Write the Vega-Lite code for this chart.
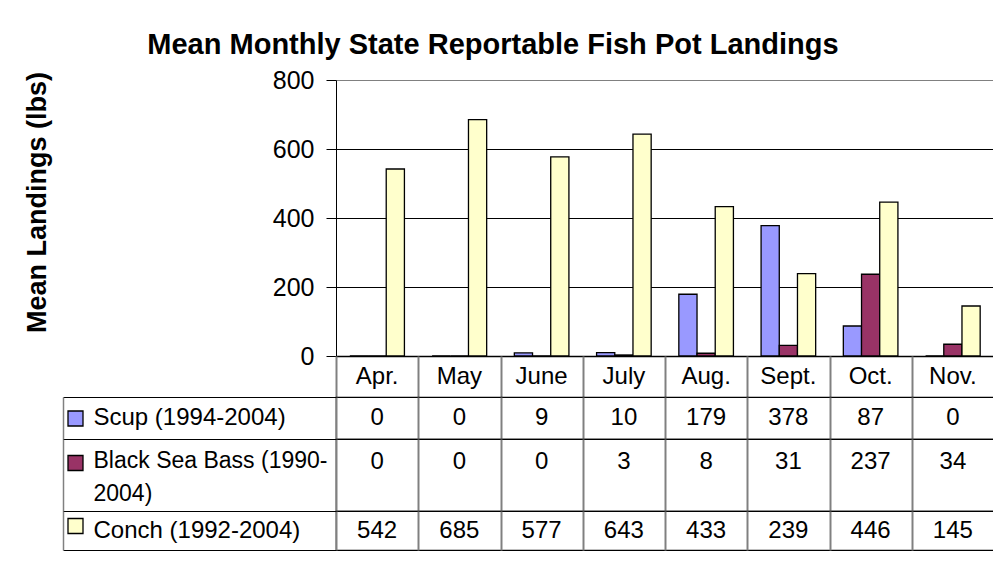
{
  "$schema": "https://vega.github.io/schema/vega-lite/v6.json",
  "padding": {"top": 31, "left": 23, "right": 0, "bottom": 0},
  "background": "white",
  "config": {
    "font": "Liberation Sans",
    "view": {"stroke": null},
    "axis": {"labelColor": "black", "titleColor": "black", "labelFont": "Liberation Sans", "titleFont": "Liberation Sans"}
  },
  "title": {
    "text": "Mean Monthly State Reportable Fish Pot Landings",
    "fontSize": 29,
    "fontWeight": "bold",
    "color": "black",
    "anchor": "middle",
    "offset": 8,
    "dx": -16
  },
  "data": {
    "values": [
      {"month": "Apr.", "series": "Scup (1994-2004)", "value": 0},
      {"month": "May", "series": "Scup (1994-2004)", "value": 0},
      {"month": "June", "series": "Scup (1994-2004)", "value": 9},
      {"month": "July", "series": "Scup (1994-2004)", "value": 10},
      {"month": "Aug.", "series": "Scup (1994-2004)", "value": 179},
      {"month": "Sept.", "series": "Scup (1994-2004)", "value": 378},
      {"month": "Oct.", "series": "Scup (1994-2004)", "value": 87},
      {"month": "Nov.", "series": "Scup (1994-2004)", "value": 0},
      {"month": "Apr.", "series": "Black Sea Bass (1990-2004)", "value": 0},
      {"month": "May", "series": "Black Sea Bass (1990-2004)", "value": 0},
      {"month": "June", "series": "Black Sea Bass (1990-2004)", "value": 0},
      {"month": "July", "series": "Black Sea Bass (1990-2004)", "value": 3},
      {"month": "Aug.", "series": "Black Sea Bass (1990-2004)", "value": 8},
      {"month": "Sept.", "series": "Black Sea Bass (1990-2004)", "value": 31},
      {"month": "Oct.", "series": "Black Sea Bass (1990-2004)", "value": 237},
      {"month": "Nov.", "series": "Black Sea Bass (1990-2004)", "value": 34},
      {"month": "Apr.", "series": "Conch (1992-2004)", "value": 542},
      {"month": "May", "series": "Conch (1992-2004)", "value": 685},
      {"month": "June", "series": "Conch (1992-2004)", "value": 577},
      {"month": "July", "series": "Conch (1992-2004)", "value": 643},
      {"month": "Aug.", "series": "Conch (1992-2004)", "value": 433},
      {"month": "Sept.", "series": "Conch (1992-2004)", "value": 239},
      {"month": "Oct.", "series": "Conch (1992-2004)", "value": 446},
      {"month": "Nov.", "series": "Conch (1992-2004)", "value": 145}
    ]
  },
  "spacing": 0,
  "bounds": "flush",
  "resolve": {"scale": {"fill": "independent"}, "legend": {"fill": "independent"}},
  "vconcat": [
    {
      "width": 658,
      "height": 276,
      "mark": {"type": "bar", "stroke": "black", "strokeWidth": 1.3},
      "encoding": {
        "x": {
          "field": "month", "type": "nominal",
          "sort": ["Apr.", "May", "June", "July", "Aug.", "Sept.", "Oct.", "Nov."],
          "scale": {"paddingInner": 0, "paddingOuter": 0},
          "axis": {"title": null, "labels": false, "ticks": false, "domainColor": "black", "domainWidth": 1.3}
        },
        "xOffset": {
          "field": "series", "type": "nominal",
          "sort": ["Scup (1994-2004)", "Black Sea Bass (1990-2004)", "Conch (1992-2004)"],
          "scale": {"paddingInner": 0, "paddingOuter": 0.76}
        },
        "y": {
          "field": "value", "type": "quantitative",
          "scale": {"domain": [0, 800]},
          "axis": {
            "title": "Mean Landings (lbs)", "titleFontSize": 27, "titleFontWeight": "bold",
            "titlePadding": 221, "titleY": 122,
            "values": [0, 200, 400, 600, 800], "labelFontSize": 25,
            "tickSize": 10, "tickColor": "black", "labelPadding": 12,
            "domainColor": "black", "grid": true,
            "gridColor": {"condition": {"test": "datum.value === 800", "value": "#808080"}, "value": "black"},
            "gridWidth": 1.2
          }
        },
        "color": {
          "field": "series", "type": "nominal",
          "scale": {"domain": ["Scup (1994-2004)", "Black Sea Bass (1990-2004)", "Conch (1992-2004)"], "range": ["#9999FF", "#993366", "#FFFFCC"]},
          "legend": null
        }
      }
    },
    {
      "width": 658,
      "height": 41,
      "transform": [{"filter": "datum.series === 'Conch (1992-2004)'"}],
      "mark": {"type": "text", "fontSize": 24, "color": "black"},
      "encoding": {
        "x": {
          "field": "month", "type": "nominal",
          "sort": ["Apr.", "May", "June", "July", "Aug.", "Sept.", "Oct.", "Nov."],
          "scale": {"type": "band", "paddingInner": 0, "paddingOuter": 0},
          "axis": {"title": null, "labels": false, "ticks": false, "domain": false, "grid": true, "tickBand": "extent", "gridColor": "#808080", "gridWidth": 2}
        },
        "text": {"field": "month", "type": "nominal"}
      }
    },
    {
      "width": 658,
      "height": 42,
      "view": {"stroke": "black", "strokeWidth": 1.2},
      "transform": [{"filter": "datum.series === 'Scup (1994-2004)'"}],
      "encoding": {
        "x": {
          "field": "month", "type": "nominal",
          "sort": ["Apr.", "May", "June", "July", "Aug.", "Sept.", "Oct.", "Nov."],
          "scale": {"type": "band", "paddingInner": 0, "paddingOuter": 0},
          "axis": {"title": null, "labels": false, "ticks": false, "domain": false, "grid": true, "tickBand": "extent", "gridColor": "#808080", "gridWidth": 2}
        }
      },
      "resolve": {"axis": {"y": "independent"}},
      "layer": [
        {
          "mark": {"type": "text", "fontSize": 24, "color": "black"},
          "encoding": {
            "y": {
              "field": "series", "type": "nominal",
              "scale": {"type": "band", "paddingInner": 0, "paddingOuter": 0},
              "axis": {"orient": "left", "title": null, "offset": 273, "tickBand": "extent", "tickSize": -273, "tickColor": "black", "tickWidth": 1.2, "domainColor": "#808080", "domainWidth": 1.5, "labels": false}
            },
            "text": {"field": "value", "type": "quantitative"}
          }
        },
        {
          "mark": {"type": "square", "opacity": 0},
          "encoding": {
            "y": {
              "field": "series", "type": "nominal",
              "scale": {"type": "band", "paddingInner": 0, "paddingOuter": 0},
              "axis": {"orient": "left", "title": null, "offset": 273, "ticks": false, "tickSize": 0, "domain": false, "labelAlign": "left", "labelPadding": -30, "labelFontSize": 24, "labelLimit": 400, "labelBaseline": "middle"}
            },
            "fill": {
              "field": "series", "type": "nominal",
              "scale": {"domain": ["Scup (1994-2004)"], "range": ["#9999FF"]},
              "legend": {"orient": "none", "legendX": -269, "legendY": 13, "title": null, "symbolType": "square", "symbolSize": 225, "symbolStrokeColor": "black", "symbolStrokeWidth": 1.3, "symbolOpacity": 1, "labelExpr": "''", "padding": 0}
            }
          }
        }
      ]
    },
    {
      "width": 658,
      "height": 72,
      "view": {"stroke": "black", "strokeWidth": 1.2},
      "transform": [{"filter": "datum.series === 'Black Sea Bass (1990-2004)'"}],
      "encoding": {
        "x": {
          "field": "month", "type": "nominal",
          "sort": ["Apr.", "May", "June", "July", "Aug.", "Sept.", "Oct.", "Nov."],
          "scale": {"type": "band", "paddingInner": 0, "paddingOuter": 0},
          "axis": {"title": null, "labels": false, "ticks": false, "domain": false, "grid": true, "tickBand": "extent", "gridColor": "#808080", "gridWidth": 2}
        }
      },
      "resolve": {"axis": {"y": "independent"}},
      "layer": [
        {
          "mark": {"type": "text", "fontSize": 24, "color": "black", "dy": -13},
          "encoding": {
            "y": {
              "field": "series", "type": "nominal",
              "scale": {"type": "band", "paddingInner": 0, "paddingOuter": 0},
              "axis": {"orient": "left", "title": null, "offset": 273, "tickBand": "extent", "tickSize": -273, "tickColor": "black", "tickWidth": 1.2, "domainColor": "#808080", "domainWidth": 1.5, "labels": false}
            },
            "text": {"field": "value", "type": "quantitative"}
          }
        },
        {
          "mark": {"type": "square", "opacity": 0},
          "encoding": {
            "y": {
              "field": "series", "type": "nominal",
              "scale": {"type": "band", "paddingInner": 0, "paddingOuter": 0},
              "axis": {"orient": "left", "title": null, "offset": 273, "ticks": false, "tickSize": 0, "domain": false, "labelAlign": "left", "labelPadding": -30, "labelFontSize": 23, "labelLimit": 400, "labelBaseline": "middle", "labelLineHeight": 33, "labelOffset": -14, "labelExpr": "['Black Sea Bass (1990-', '2004)']"}
            },
            "fill": {
              "field": "series", "type": "nominal",
              "scale": {"domain": ["Black Sea Bass (1990-2004)"], "range": ["#993366"]},
              "legend": {"orient": "none", "legendX": -269, "legendY": 15.5, "title": null, "symbolType": "square", "symbolSize": 225, "symbolStrokeColor": "black", "symbolStrokeWidth": 1.3, "symbolOpacity": 1, "labelExpr": "''", "padding": 0}
            }
          }
        }
      ]
    },
    {
      "width": 658,
      "height": 39,
      "view": {"stroke": "black", "strokeWidth": 1.2},
      "transform": [{"filter": "datum.series === 'Conch (1992-2004)'"}],
      "encoding": {
        "x": {
          "field": "month", "type": "nominal",
          "sort": ["Apr.", "May", "June", "July", "Aug.", "Sept.", "Oct.", "Nov."],
          "scale": {"type": "band", "paddingInner": 0, "paddingOuter": 0},
          "axis": {"title": null, "labels": false, "ticks": false, "domain": false, "grid": true, "tickBand": "extent", "gridColor": "#808080", "gridWidth": 2}
        }
      },
      "resolve": {"axis": {"y": "independent"}},
      "layer": [
        {
          "mark": {"type": "text", "fontSize": 24, "color": "black"},
          "encoding": {
            "y": {
              "field": "series", "type": "nominal",
              "scale": {"type": "band", "paddingInner": 0, "paddingOuter": 0},
              "axis": {"orient": "left", "title": null, "offset": 273, "tickBand": "extent", "tickSize": -273, "tickColor": "black", "tickWidth": 1.2, "domainColor": "#808080", "domainWidth": 1.5, "labels": false}
            },
            "text": {"field": "value", "type": "quantitative"}
          }
        },
        {
          "mark": {"type": "square", "opacity": 0},
          "encoding": {
            "y": {
              "field": "series", "type": "nominal",
              "scale": {"type": "band", "paddingInner": 0, "paddingOuter": 0},
              "axis": {"orient": "left", "title": null, "offset": 273, "ticks": false, "tickSize": 0, "domain": false, "labelAlign": "left", "labelPadding": -30, "labelFontSize": 24, "labelLimit": 400, "labelBaseline": "middle"}
            },
            "fill": {
              "field": "series", "type": "nominal",
              "scale": {"domain": ["Conch (1992-2004)"], "range": ["#FFFFCC"]},
              "legend": {"orient": "none", "legendX": -269, "legendY": 6.5, "title": null, "symbolType": "square", "symbolSize": 225, "symbolStrokeColor": "black", "symbolStrokeWidth": 1.3, "symbolOpacity": 1, "labelExpr": "''", "padding": 0}
            }
          }
        }
      ]
    }
  ]
}
